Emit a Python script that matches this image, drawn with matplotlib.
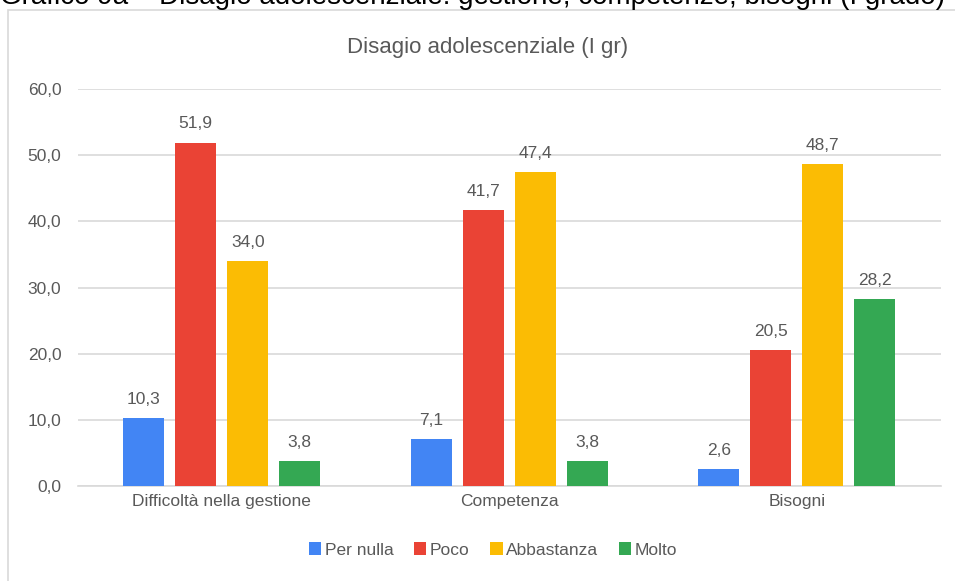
import numpy as np
import matplotlib.pyplot as plt
from matplotlib.patches import Rectangle

plt.rcParams['font.family'] = ['Liberation Sans', 'DejaVu Sans']

categories = ['Difficoltà nella gestione', 'Competenza', 'Bisogni']
series = ['Per nulla', 'Poco', 'Abbastanza', 'Molto']
per_nulla = [10.3, 7.1, 2.6]
poco = [51.9, 41.7, 20.5]
abbastanza = [34.0, 47.4, 48.7]
molto = [3.8, 3.8, 28.2]
colors = ['#4285F4', '#EA4335', '#FBBC04', '#34A853']
text_col = '#595959'

W, H = 955, 581
fig = plt.figure(figsize=(W / 100, H / 100), dpi=100)

# outer chart border (cut at right and bottom)
fig.patches.append(Rectangle((8 / W, -0.05), 1.1, 1 - 10 / H + 0.05,
                             transform=fig.transFigure, fill=False,
                             edgecolor='#D9D9D9', linewidth=1.2))

# caption partly cut at the top
fig.text(0.0, 1 - 4 / H, 'Grafico 9a – Disagio adolescenziale: gestione, competenze, bisogni (I grado)',
         fontsize=20, color='black', ha='left', va='baseline')

ax = fig.add_axes([78 / W, 1 - 486 / H, 862.5 / W, 397 / H])
x = np.arange(len(categories))
pitch = 0.181
width = 0.143
for i, (vals, name) in enumerate(zip([per_nulla, poco, abbastanza, molto], series)):
    pos = x + (i - 1.5) * pitch
    bars = ax.bar(pos, vals, width, color=colors[i], label=name, zorder=3)
    for p, v in zip(pos, vals):
        ax.annotate(f'{v:.1f}'.replace('.', ','), (p, v), xytext=(0, 8),
                    textcoords='offset points', ha='center', va='bottom',
                    fontsize=12.5, color=text_col)

ax.set_xlim(-0.5, 2.5)
ax.set_ylim(0, 60)
ax.set_yticks(np.arange(0, 61, 10))
ax.set_yticklabels([f'{t:.1f}'.replace('.', ',') for t in np.arange(0, 61, 10)])
ax.set_xticks(x)
ax.set_xticklabels(categories)
ax.tick_params(length=0, labelsize=12.5, colors=text_col, pad=6)
ax.tick_params(axis='y', pad=12)
ax.grid(axis='y', color='#D9D9D9', linewidth=1.2, zorder=0)
for s in ['top', 'right', 'left']:
    ax.spines[s].set_visible(False)
ax.spines['bottom'].set_color('#D9D9D9')
ax.spines['bottom'].set_linewidth(1.2)

fig.text(488 / W, 1 - 47 / H, 'Disagio adolescenziale (I gr)', ha='center', va='center',
         fontsize=16, color=text_col)

ax.legend(loc='center', bbox_to_anchor=(493 / W, 1 - 550 / H), bbox_transform=fig.transFigure,
          ncol=4, frameon=False, fontsize=12.5, handlelength=0.7, handleheight=0.7,
          handletextpad=0.2, columnspacing=1.2, labelcolor=text_col)

fig.savefig('out.png', dpi=100)
